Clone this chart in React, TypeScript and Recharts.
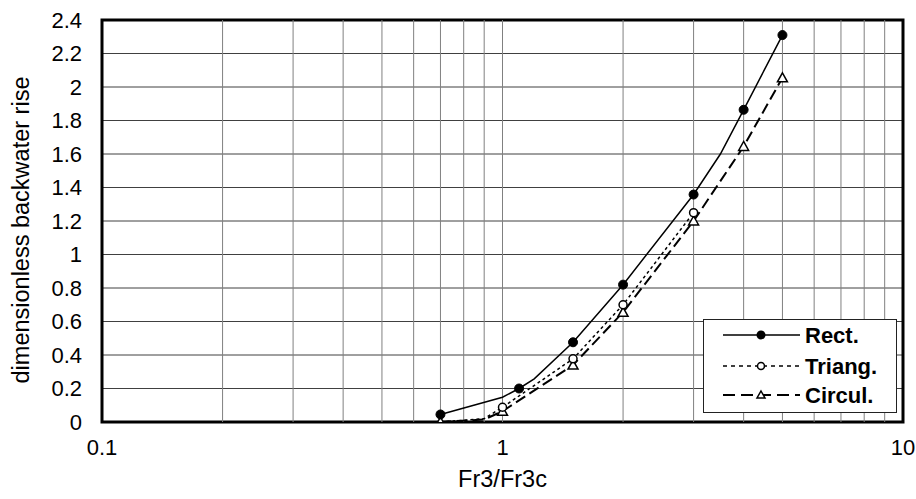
import React from 'react';
import {
  CartesianGrid,
  ComposedChart,
  Legend,
  Line,
  ReferenceArea,
  ReferenceLine,
  XAxis,
  YAxis,
} from 'recharts';

// Rect. (solid line, filled dots) - some line points carry no marker
const rectX = [0.7, 1.0, 1.1, 1.2, 1.5, 2, 3, 3.5, 4, 5];
const rectY = [0.045, 0.148, 0.2, 0.258, 0.476, 0.82, 1.358, 1.6, 1.864, 2.31];
const rectMarks = [0.7, 1.1, 1.5, 2, 3, 4, 5];

// Triang. (dotted line, open circles)
const triangX = [0.7, 0.9, 1, 1.5, 2, 3];
const triangY = [0, 0.02, 0.088, 0.377, 0.7, 1.25];
const triangMarks = [1, 1.5, 2, 3];

// Circul. (dashed line, open triangles)
const circulX = [0.7, 0.9, 1, 1.5, 2, 3, 4, 5];
const circulY = [0, 0.015, 0.064, 0.34, 0.655, 1.2, 1.645, 2.055];
const circulMarks = [0.7, 1, 1.5, 2, 3, 4, 5];

const xTicks = [0.1, 1, 10];
const xMinor = [0.2, 0.3, 0.4, 0.5, 0.6, 0.7, 0.8, 0.9, 1, 2, 3, 4, 5, 6, 7, 8, 9];
const yTicks = [0, 0.2, 0.4, 0.6, 0.8, 1, 1.2, 1.4, 1.6, 1.8, 2, 2.2, 2.4];

const FONT = '"Liberation Sans", Arial, sans-serif';

const toRows = (xs: number[], ys: number[]) => xs.map((x, i) => ({ x, y: ys[i] }));

const rectData = toRows(rectX, rectY);
const triangData = toRows(triangX, triangY);
const circulData = toRows(circulX, circulY);

const fmtY = (v: number) => String(Number(v.toFixed(1)));

const makeDot = (marks: number[], kind: string) => (props: any) => {
  const { cx, cy, payload, index } = props;
  if (cx == null || cy == null || !marks.includes(payload.x)) return <g key={`d${index}`} />;
  if (kind === 'filled') return <circle key={`d${index}`} cx={cx} cy={cy} r={4.5} fill="#000" stroke="#000" />;
  if (kind === 'circle') return <circle key={`d${index}`} cx={cx} cy={cy} r={4} fill="#fff" stroke="#000" strokeWidth={1.5} />;
  return (
    <path
      key={`d${index}`}
      d={`M${cx},${cy - 5} L${cx + 5},${cy + 4} L${cx - 5},${cy + 4} Z`}
      fill="#fff"
      stroke="#000"
      strokeWidth={1.5}
    />
  );
};

const LegendBox = () => (
  <svg width={194} height={94} style={{ display: 'block' }}>
    <rect x={0.5} y={0.5} width={193} height={93} fill="#fff" stroke="#222" strokeWidth={1} />
    {/* Rect. */}
    <line x1={20} x2={97} y1={16} y2={16} stroke="#000" strokeWidth={1.5} />
    <circle cx={58} cy={16} r={4.5} fill="#000" />
    <text x={102} y={16} dy="0.36em" fontSize={22} fontWeight="bold" fontFamily={FONT}>Rect.</text>
    {/* Triang. */}
    <line x1={20} x2={97} y1={47} y2={47} stroke="#000" strokeWidth={1.5} strokeDasharray="4 4" />
    <circle cx={58} cy={47} r={3.5} fill="#fff" stroke="#000" strokeWidth={1.5} />
    <text x={102} y={47} dy="0.36em" fontSize={22} fontWeight="bold" fontFamily={FONT}>Triang.</text>
    {/* Circul. */}
    <line x1={20} x2={97} y1={76} y2={76} stroke="#000" strokeWidth={2} strokeDasharray="12 6" />
    <path d="M58,72 L62,79 L54,79 Z" fill="#fff" stroke="#000" strokeWidth={1.5} />
    <text x={102} y={76} dy="0.36em" fontSize={22} fontWeight="bold" fontFamily={FONT}>Circul.</text>
  </svg>
);

const YTitle = () => (
  <text
    x={21}
    y={230}
    transform="rotate(-90 21 230)"
    textAnchor="middle"
    dominantBaseline="central"
    fontSize={23.5}
    fill="#000"
    fontFamily={FONT}
  >
    dimensionless backwater rise
  </text>
);

const App: React.FC = () => {
  return (
    <div style={{ width: 916, height: 499, background: '#fff' }}>
      <style>{'body{margin:0;}'}</style>
      <ComposedChart width={916} height={499} margin={{ top: 20, right: 13, left: 0, bottom: 0 }}>
        <CartesianGrid vertical={false} stroke="#404040" strokeWidth={1} />
        {xMinor.map((v) => (
          <ReferenceLine key={v} x={v} stroke="#808080" strokeWidth={1} />
        ))}
        <XAxis
          dataKey="x"
          type="number"
          scale="log"
          domain={[0.1, 10]}
          ticks={xTicks}
          allowDataOverflow
          axisLine={false}
          tickLine={false}
          tickSize={0}
          tickMargin={17}
          height={77}
          tick={{ fontSize: 22, fill: '#000', fontFamily: FONT }}
          tickFormatter={(v: number) => String(v)}
          label={{ value: 'Fr3/Fr3c', position: 'insideBottom', offset: 12, fontSize: 23.5, fill: '#000', fontFamily: FONT }}
        />
        <YAxis
          type="number"
          domain={[0, 2.4]}
          ticks={yTicks}
          interval={0}
          allowDataOverflow
          axisLine={false}
          tickLine={false}
          tickSize={0}
          tickMargin={20}
          width={102}
          tick={{ fontSize: 22, fill: '#000', fontFamily: FONT }}
          tickFormatter={fmtY}
          label={{ content: () => <YTitle /> }}
        />
        <ReferenceArea x1={0.1} x2={10} y1={0} y2={2.4} fill="none" stroke="#000" strokeWidth={3} ifOverflow="visible" />
        <Line
          data={circulData}
          dataKey="y"
          type="linear"
          stroke="#000"
          strokeWidth={2}
          strokeDasharray="11 5"
          dot={makeDot(circulMarks, 'triangle')}
          activeDot={false}
          isAnimationActive={false}
        />
        <Line
          data={triangData}
          dataKey="y"
          type="linear"
          stroke="#000"
          strokeWidth={1.5}
          strokeDasharray="3 3"
          dot={makeDot(triangMarks, 'circle')}
          activeDot={false}
          isAnimationActive={false}
        />
        <Line
          data={rectData}
          dataKey="y"
          type="linear"
          stroke="#000"
          strokeWidth={1.5}
          dot={makeDot(rectMarks, 'filled')}
          activeDot={false}
          isAnimationActive={false}
        />
        <Legend
          layout="vertical"
          align="center"
          verticalAlign="middle"
          content={() => <LegendBox />}
          wrapperStyle={{ position: 'absolute', left: 703, top: 319, width: 194, height: 94 }}
        />
      </ComposedChart>
    </div>
  );
};

export default App;
